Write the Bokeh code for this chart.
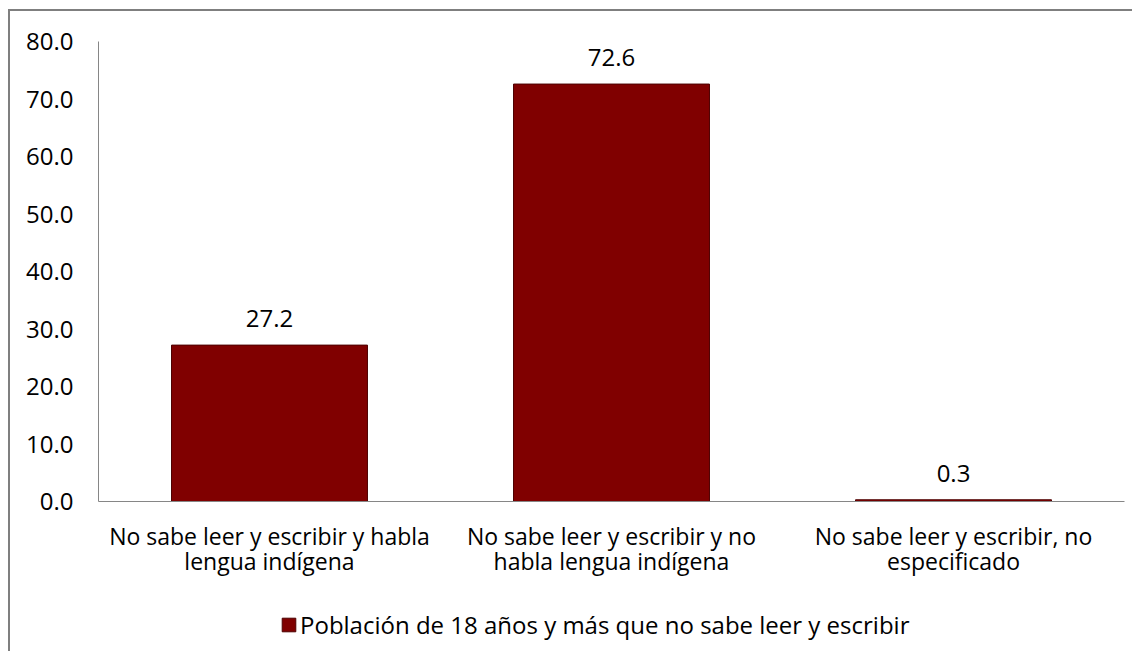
from bokeh.plotting import figure
from bokeh.layouts import column
from bokeh.models import ColumnDataSource, FactorRange, FixedTicker, PrintfTickFormatter, Legend, LegendItem
from bokeh.core.properties import value
from bokeh.embed import file_html
from bokeh.resources import INLINE

categories = [
    "No sabe leer y escribir y habla\nlengua indígena",
    "No sabe leer y escribir y no\nhabla lengua indígena",
    "No sabe leer y escribir, no\nespecificado",
]
values = [27.2, 72.6, 0.3]
series_name = "Población de 18 años y más que no sabe leer y escribir"
y_ticks = [0, 10, 20, 30, 40, 50, 60, 70, 80]

FONT = "Open Sans"
BAR_FILL = "#800000"
BAR_LINE = "#4d0000"

src = ColumnDataSource(dict(cat=categories, val=values, lab=[f"{v:.1f}" for v in values]))

p = figure(
    x_range=FactorRange(factors=categories, range_padding=0),
    y_range=(0, 80),
    frame_width=1026, frame_height=460,
    output_backend="svg", toolbar_location=None,
    min_border_left=88, min_border_right=8, min_border_top=30, min_border_bottom=100,
)
p.outline_line_color = None
p.xgrid.grid_line_color = None
p.ygrid.grid_line_color = None

p.vbar(x="cat", top="val", width=0.573, source=src,
       fill_color=BAR_FILL, line_color=BAR_LINE, line_width=1)

p.text(x="cat", y="val", text="lab", source=src, text_align="center", text_baseline="bottom",
       y_offset=-18, text_font=value(FONT), text_font_size="24px", text_color="#000000")

p.yaxis.ticker = FixedTicker(ticks=y_ticks)
p.yaxis.formatter = PrintfTickFormatter(format="%.1f")
for ax in (p.xaxis, p.yaxis):
    ax.axis_line_color = "#868686"
    ax.major_tick_line_color = None
    ax.minor_tick_line_color = None
    ax.major_label_text_font = FONT
    ax.major_label_text_color = "#000000"
p.yaxis.major_label_text_font_size = "24px"
p.xaxis.major_label_text_font_size = "23px"
p.yaxis.major_label_standoff = 19
p.xaxis.major_label_standoff = 12
p.xaxis.major_label_text_line_height = 0.8

# legend strip below the chart (same series, same style)
p2 = figure(
    x_range=FactorRange(factors=categories, range_padding=0),
    y_range=(1000, 1001),
    width=1122, height=50,
    output_backend="svg", toolbar_location=None,
    x_axis_location=None, y_axis_location=None,
    min_border=0,
)
p2.outline_line_color = None
p2.xgrid.grid_line_color = None
p2.ygrid.grid_line_color = None
leg_bars = p2.vbar(x="cat", top="val", width=0.573, source=src,
                   fill_color=BAR_FILL, line_color=BAR_LINE, line_width=1)
legend = Legend(items=[LegendItem(label=series_name, renderers=[leg_bars])],
                location=(182, 10), orientation="horizontal",
                label_text_font=FONT, label_text_font_size="24px", label_text_color="#000000",
                glyph_width=17, glyph_height=17, label_standoff=3,
                border_line_color=None, background_fill_alpha=0, padding=0, margin=0)
p2.add_layout(legend, "center")

inner = column(p, p2, spacing=0,
               styles={"border-left": "2px solid #7f7f7f", "border-top": "2px solid #7f7f7f"})
layout = column(inner, styles={"padding-left": "8px", "padding-top": "9px"})

open("out.html", "w").write(file_html(layout, INLINE))
